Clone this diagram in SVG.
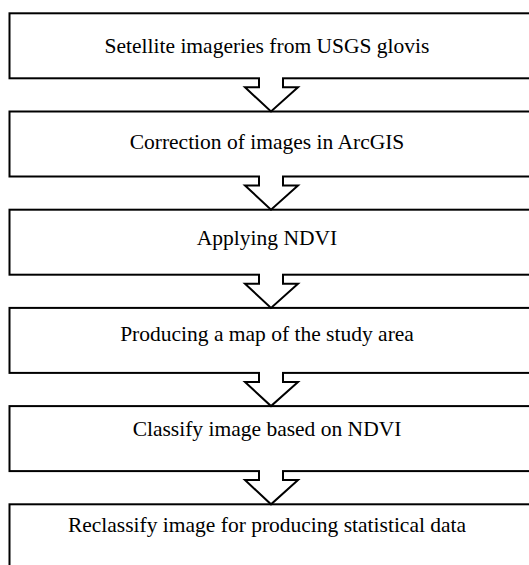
<svg xmlns="http://www.w3.org/2000/svg" width="529" height="565" viewBox="0 0 529 565">
  <style>
    .box { fill: #ffffff; stroke: #000000; stroke-width: 2; }
    .lbl { font-family: "Liberation Serif", "Times New Roman", serif; font-size: 21.5px; fill: #000000; text-anchor: middle; }
    .afill { fill: #ffffff; stroke: none; }
    .aline { fill: none; stroke: #000000; stroke-width: 2; stroke-linejoin: miter; }
  </style>
  <rect width="529" height="565" fill="#ffffff"/>
  <g id="n1">
    <rect class="box" x="9.5" y="13.3" width="530" height="65"/>
    <text class="lbl" x="267" y="53.3">Setellite imageries from USGS glovis</text>
  </g>
  <g id="n2">
    <rect class="box" x="9.5" y="111.5" width="530" height="65"/>
    <text class="lbl" x="267" y="149">Correction of images in ArcGIS</text>
  </g>
  <g id="n3">
    <rect class="box" x="9.5" y="209.7" width="530" height="65"/>
    <text class="lbl" x="267" y="245">Applying NDVI</text>
  </g>
  <g id="n4">
    <rect class="box" x="9.5" y="307.9" width="530" height="65"/>
    <text class="lbl" x="267" y="340.5">Producing a map of the study area</text>
  </g>
  <g id="n5">
    <rect class="box" x="9.5" y="406.1" width="530" height="65"/>
    <text class="lbl" x="267" y="436.3">Classify image based on NDVI</text>
  </g>
  <g id="n6">
    <rect class="box" x="9.5" y="504.3" width="530" height="65"/>
    <text class="lbl" x="267" y="532">Reclassify image for producing statistical data</text>
  </g>
  <g id="connectors">
    <g transform="translate(0,78.3)">
      <polygon class="afill" points="260,-2 260,9 245,9 271,33.2 297,9 282,9 282,-2"/>
      <polyline class="aline" points="259,0 259,9 245,9 271,33.2 298,9 283,9 283,0"/>
    </g>
    <g transform="translate(0,176.5)">
      <polygon class="afill" points="260,-2 260,9 245,9 271,33.2 297,9 282,9 282,-2"/>
      <polyline class="aline" points="259,0 259,9 245,9 271,33.2 298,9 283,9 283,0"/>
    </g>
    <g transform="translate(0,274.7)">
      <polygon class="afill" points="260,-2 260,9 245,9 271,33.2 297,9 282,9 282,-2"/>
      <polyline class="aline" points="259,0 259,9 245,9 271,33.2 298,9 283,9 283,0"/>
    </g>
    <g transform="translate(0,372.9)">
      <polygon class="afill" points="260,-2 260,9 245,9 271,33.2 297,9 282,9 282,-2"/>
      <polyline class="aline" points="259,0 259,9 245,9 271,33.2 298,9 283,9 283,0"/>
    </g>
    <g transform="translate(0,471.1)">
      <polygon class="afill" points="260,-2 260,9 245,9 271,33.2 297,9 282,9 282,-2"/>
      <polyline class="aline" points="259,0 259,9 245,9 271,33.2 298,9 283,9 283,0"/>
    </g>
  </g>
</svg>
